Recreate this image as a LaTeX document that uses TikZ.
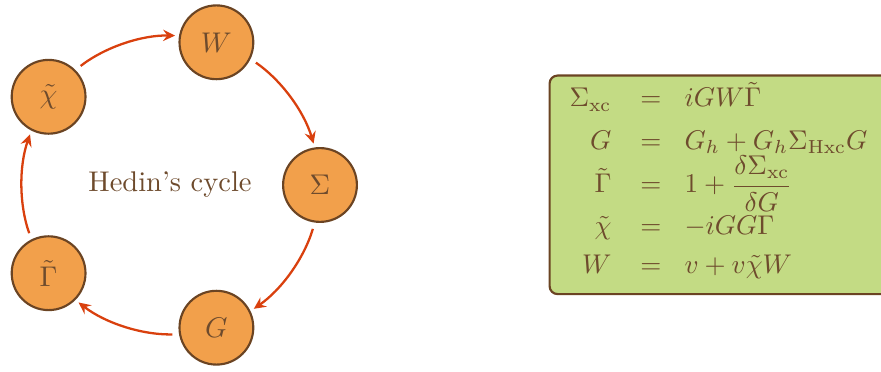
\documentclass[tikz,border=0pt]{standalone}
\usepackage{amsmath}
\usetikzlibrary{arrows.meta}
\definecolor{nodefill}{HTML}{F2A04B}
\definecolor{brownline}{HTML}{6B4423}
\definecolor{browntext}{HTML}{6E4B2D}
\definecolor{arrowred}{HTML}{D9400E}
\definecolor{boxgreen}{HTML}{C3DB84}
\begin{document}
\begin{tikzpicture}[x=0.351pt,y=-0.351pt,
  cyc/.style={circle,draw=brownline,fill=nodefill,line width=0.75pt,minimum size=25.9pt,inner sep=0pt,text=browntext},
  cycarrow/.style={draw=arrowred,line width=0.8pt,-{Stealth[length=4.2pt,width=4pt,inset=1.5pt]},shorten <=2.3pt,shorten >=1.4pt,bend left=19.4,looseness=0.88},
  eqbox/.style={draw=brownline,fill=boxgreen,rounded corners=2.8pt,line width=0.75pt,inner sep=0pt},
  eqtext/.style={inner sep=0pt,text=browntext,scale=0.95,transform shape},
  lhs/.style={eqtext,anchor=base east},
  rhs/.style={eqtext,anchor=base west},
  eqs/.style={eqtext,anchor=base}]
\useasboundingbox (0,0) rectangle (881,372);
\begin{scope}
\clip (0,0) rectangle (881,372);
\node[eqbox,anchor=north west,minimum width=124pt,minimum height=76.7pt] (box) at (548.5,74.5) {};
\end{scope}
% cycle nodes
\node[cyc] (W) at (216.4,42.3) {$W$};
\node[cyc] (S) at (320,185) {$\Sigma$};
\node[cyc] (G) at (216.4,327.7) {$G$};
\node[cyc] (Gam) at (48.6,273.2) {$\tilde\Gamma$};
\node[cyc] (chi) at (48.6,96.8) {$\tilde\chi$};
\node[text=browntext] (title) at (170,185) {Hedin's cycle};
% arrows
\draw[cycarrow] (chi.45.45) to (W.170.05);
\draw[cycarrow] (W.-26.55) to (S.98.05);
\draw[cycarrow] (S.-98.55) to (G.26.05);
\draw[cycarrow] (G.-170.55) to (Gam.-45.95);
\draw[cycarrow] (Gam.117.45) to (chi.-117.95);
% equations
\node[lhs] (l1) at (612,107) {$\Sigma_{\mathrm{xc}}$};
\node[eqs] (e1) at (651,107) {$=$};
\node[rhs] (r1) at (684,107) {$iGW\tilde\Gamma$};
\node[lhs] (l2) at (612,149.5) {$G$};
\node[eqs] (e2) at (651,149.5) {$=$};
\node[rhs] (r2) at (684,149.5) {$G_h+G_h\Sigma_{\mathrm{Hxc}}G$};
\node[lhs] (l3) at (612,193) {$\tilde\Gamma$};
\node[eqs] (e3) at (651,193) {$=$};
\node[rhs] (r3) at (684,193) {$\displaystyle 1+\frac{\delta\Sigma_{\mathrm{xc}}}{\delta G}$};
\node[lhs] (l4) at (612,235) {$\tilde\chi$};
\node[eqs] (e4) at (651,235) {$=$};
\node[rhs] (r4) at (684,235) {$-iGG\Gamma$};
\node[lhs] (l5) at (612,274) {$W$};
\node[eqs] (e5) at (651,274) {$=$};
\node[rhs] (r5) at (684,274) {$v+v\tilde\chi W$};
\end{tikzpicture}
\end{document}
